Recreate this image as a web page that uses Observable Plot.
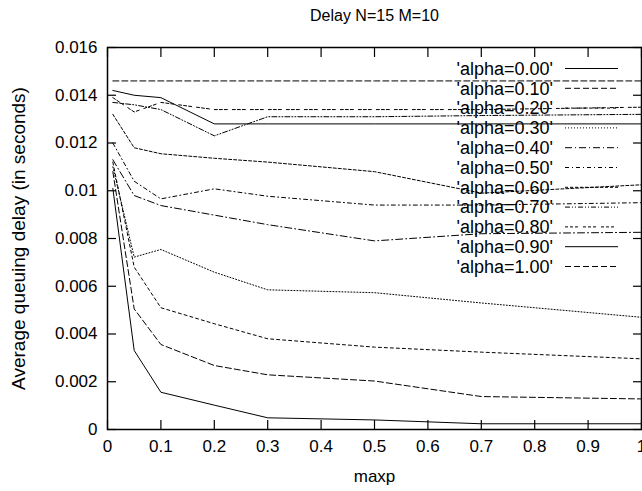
<!DOCTYPE html>
<html>
<head>
<meta charset="utf-8">
<script src="https://cdn.jsdelivr.net/npm/d3@7"></script>
<script src="https://cdn.jsdelivr.net/npm/@observablehq/plot@0.6"></script>
<style>
  html, body { margin: 0; padding: 0; background: #fff; }
  svg { display: block; }
</style>
</head>
<body>
<div id="chart"></div>
<script>
// ---- data ----
const maxp = [0.01, 0.05, 0.1, 0.2, 0.3, 0.5, 0.7, 1.0];
const alphaLabels = ["0.00", "0.10", "0.20", "0.30", "0.40", "0.50", "0.60", "0.70", "0.80", "0.90", "1.00"];
const delay000 = [0.0101, 0.00331, 0.00156, 0.00102, 0.00049, 0.00040, 0.00024, 0.00024];
const delay010 = [0.0108, 0.00505, 0.00356, 0.00268, 0.00229, 0.00203, 0.00138, 0.00128];
const delay020 = [0.0112, 0.00680, 0.00510, 0.00443, 0.00380, 0.00345, 0.00324, 0.00296];
const delay030 = [0.0110, 0.00722, 0.00754, 0.00659, 0.00585, 0.00573, 0.00530, 0.00470];
const delay040 = [0.0113, 0.00980, 0.00938, 0.00898, 0.00858, 0.00790, 0.00820, 0.00826];
const delay050 = [0.0120, 0.01040, 0.00966, 0.01008, 0.00977, 0.00940, 0.00940, 0.00950];
const delay060 = [0.0132, 0.01180, 0.01155, 0.01136, 0.01120, 0.01080, 0.00990, 0.01025];
const delay070 = [0.0137, 0.01360, 0.01340, 0.01230, 0.01310, 0.01310, 0.01315, 0.01320];
const delay080 = [0.0139, 0.01330, 0.01370, 0.01340, 0.01340, 0.01340, 0.01340, 0.01350];
const delay090 = [0.0142, 0.01400, 0.01390, 0.01280, 0.01280, 0.01280, 0.01280, 0.01280];
const delay100 = [0.0146, 0.01460, 0.01460, 0.01460, 0.01460, 0.01460, 0.01460, 0.01460];
const seriesValues = [delay000, delay010, delay020, delay030, delay040, delay050,
                      delay060, delay070, delay080, delay090, delay100];
const xTicks = [0, 0.1, 0.2, 0.3, 0.4, 0.5, 0.6, 0.7, 0.8, 0.9, 1];
const yTicks = [0, 0.002, 0.004, 0.006, 0.008, 0.01, 0.012, 0.014, 0.016];
const titleText = "Delay N=15 M=10";
const xLabelText = "maxp";
const yLabelText = "Average queuing delay (in seconds)";

// ---- styles ----
const dashes = [null, "6,3", "3,3", "1,2", "7,3,1,3", "4,3,1,3", "3,2", "5,2,1,2,1,2", "3,2,3,2,3,5", null, "6,3"];
const FONT = "'Liberation Sans', Arial, Helvetica, sans-serif";
const fmt = d => String(+(+d).toFixed(3));

const rows = [];
alphaLabels.forEach((a, i) => maxp.forEach((x, j) => rows.push({alpha: a, maxp: x, delay: seriesValues[i][j]})));

const lineMarks = alphaLabels.map((a, i) =>
  Plot.line(rows.filter(r => r.alpha === a), {
    x: "maxp", y: "delay", stroke: "black", strokeWidth: 1,
    strokeDasharray: dashes[i] || undefined
  })
);

const chart = Plot.plot({
  width: 642,
  height: 491,
  marginLeft: 107,
  marginRight: 1,
  marginTop: 47,
  marginBottom: 62,
  style: {fontFamily: FONT, fontSize: "17px", background: "#fff", color: "#000", overflow: "visible"},
  x: {domain: [0, 1], label: null},
  y: {domain: [0, 0.016], label: null},
  marks: [
    ...lineMarks,
    Plot.frame({stroke: "black", strokeWidth: 1.5}),
    Plot.axisX(xTicks, {anchor: "bottom", tickSize: -9, tickPadding: 19, tickFormat: fmt, label: null, strokeWidth: 1.2, fontSize: 17}),
    Plot.axisX(xTicks, {anchor: "top", tickSize: -9, fill: "none", label: null, strokeWidth: 1.2}),
    Plot.axisY(yTicks, {anchor: "left", tickSize: -9, tickPadding: 19, tickFormat: fmt, label: null, strokeWidth: 1.2, fontSize: 17}),
    Plot.axisY(yTicks, {anchor: "right", tickSize: -9, fill: "none", label: null, strokeWidth: 1.2}),
    Plot.text([titleText], {text: d => d, frameAnchor: "top", dy: -32, lineAnchor: "middle", textAnchor: "middle", fontSize: 16}),
    Plot.text([xLabelText], {text: d => d, frameAnchor: "bottom", dy: 47, lineAnchor: "middle", textAnchor: "middle", fontSize: 17}),
    Plot.text([yLabelText], {text: d => d, frameAnchor: "left", dx: -89, rotate: -90, lineAnchor: "middle", textAnchor: "middle", fontSize: 19})
  ]
});

document.getElementById("chart").appendChild(chart);

// ---- legend (gnuplot style, inside top-right) ----
const svg = d3.select(chart);
const lg = svg.append("g").attr("font-family", FONT).attr("font-size", 18);
const rowY0 = 68.5, rowStep = 19.8;
alphaLabels.forEach((a, i) => {
  const y = rowY0 + i * rowStep;
  lg.append("text")
    .attr("x", 553).attr("y", y).attr("dy", "0.35em")
    .attr("text-anchor", "end").attr("fill", "black")
    .text(`'alpha=${a}'`);
  lg.append("line")
    .attr("x1", 565).attr("x2", 618).attr("y1", y).attr("y2", y)
    .attr("stroke", "black").attr("stroke-width", 1)
    .attr("stroke-dasharray", dashes[i]);
});
</script>
</body>
</html>
